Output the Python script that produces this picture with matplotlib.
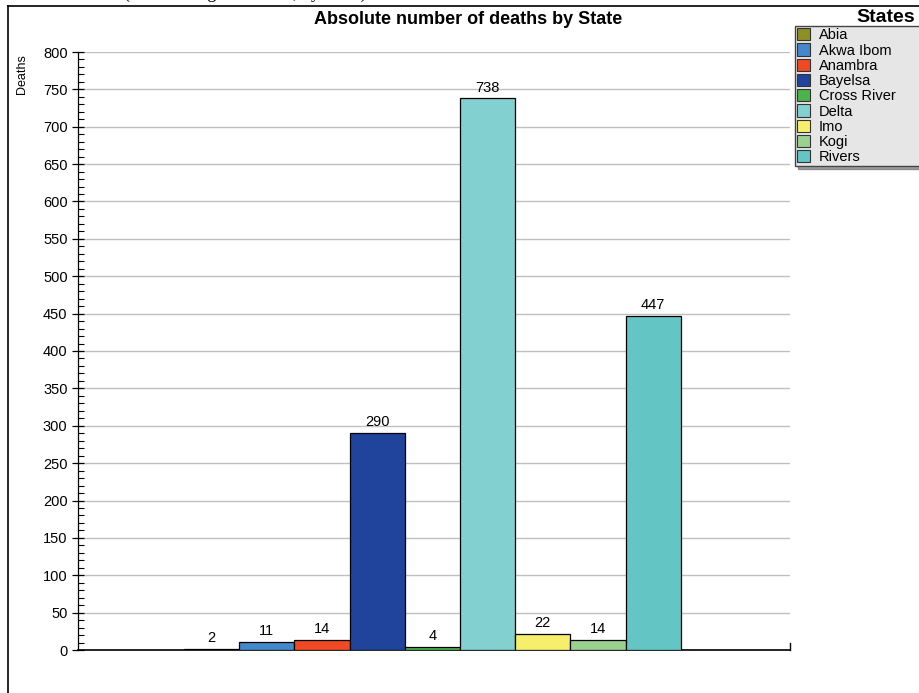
import matplotlib
matplotlib.use('Agg')
import matplotlib.pyplot as plt
from matplotlib.lines import Line2D
from matplotlib.patches import Patch
from matplotlib.ticker import MultipleLocator

plt.rcParams['font.family'] = ['Liberation Sans', 'DejaVu Sans']

# data
states = ['Abia', 'Akwa Ibom', 'Anambra', 'Bayelsa', 'Cross River', 'Delta', 'Imo', 'Kogi', 'Rivers']
deaths = [2, 11, 14, 290, 4, 738, 22, 14, 447]
colors = ['#8f8f24', '#4387cc', '#ef4a23', '#20449b', '#4ab44a', '#83d0d0', '#f5ef6b', '#9ad18f', '#63c5c4']

W, H = 919, 693
fig = plt.figure(figsize=(W / 100, H / 100), dpi=100)
ax = fig.add_axes([78 / W, 1 - 650 / H, (790 - 78) / W, (650 - 52) / H])

x = list(range(len(states)))
bars = ax.bar(x, deaths, width=1.0, align='edge', color=colors, edgecolor='black', linewidth=0.9, zorder=3)
for xi, v in zip(x, deaths):
    ax.text(xi + 0.5, v + 5, str(v), ha='center', va='bottom', fontsize=10.5)

ax.set_xlim(-1.92, 10.98)
ax.set_ylim(0, 800)
ax.yaxis.set_major_locator(MultipleLocator(50))
ax.yaxis.set_minor_locator(MultipleLocator(10))
ax.grid(axis='y', color='#c0c0c0', linewidth=1, zorder=0)
ax.set_xticks([])
for s in ['top', 'right']:
    ax.spines[s].set_visible(False)
ax.spines['left'].set_linewidth(0.9)
ax.spines['bottom'].set_linewidth(1.2)
ax.tick_params(axis='y', which='major', direction='inout', length=8, width=0.9, labelsize=10.5)
ax.tick_params(axis='y', which='minor', direction='in', length=4, width=0.8)
# small tick at the right end of the x axis
ax.plot([1, 1], [0, 0.012], transform=ax.transAxes, color='black', linewidth=1, clip_on=False)

fig.text(22 / W, 1 - 74 / H, 'Deaths', rotation=90, ha='center', va='center', fontsize=9)
fig.text(468 / W, 1 - 19 / H, 'Absolute number of deaths by State', ha='center', va='center',
         fontsize=13, fontweight='bold')
fig.text(245 / W, 1 + 7 / H, '(Source: Nigeria Watch, by State)', ha='center', va='center',
         fontsize=13, family='Liberation Serif')

# outer frame
fig.add_artist(Line2D([8 / W, 8 / W], [0, 1 - 6 / H], color='black', linewidth=1.2))
fig.add_artist(Line2D([8 / W, 1], [1 - 6 / H, 1 - 6 / H], color='black', linewidth=1.2))

handles = [Patch(facecolor=c, edgecolor='#333333', linewidth=0.8) for c in colors]
leg = fig.legend(handles, states, loc='upper left', bbox_to_anchor=(795 / W, 1 - 26 / H - 0.01, 140 / W, 0.01),
                 mode='expand', fontsize=10.5, handlelength=0.9, handleheight=0.9, handletextpad=0.6,
                 labelspacing=0.08, borderpad=0.15, fancybox=False, shadow=True, borderaxespad=0)
leg.get_frame().set_facecolor('#e6e6e6')
leg.get_frame().set_edgecolor('#444444')
fig.text(915 / W, 1 - 18 / H, 'States', ha='right', va='center', fontsize=14, fontweight='bold')

fig.savefig('out.png', dpi=100)
